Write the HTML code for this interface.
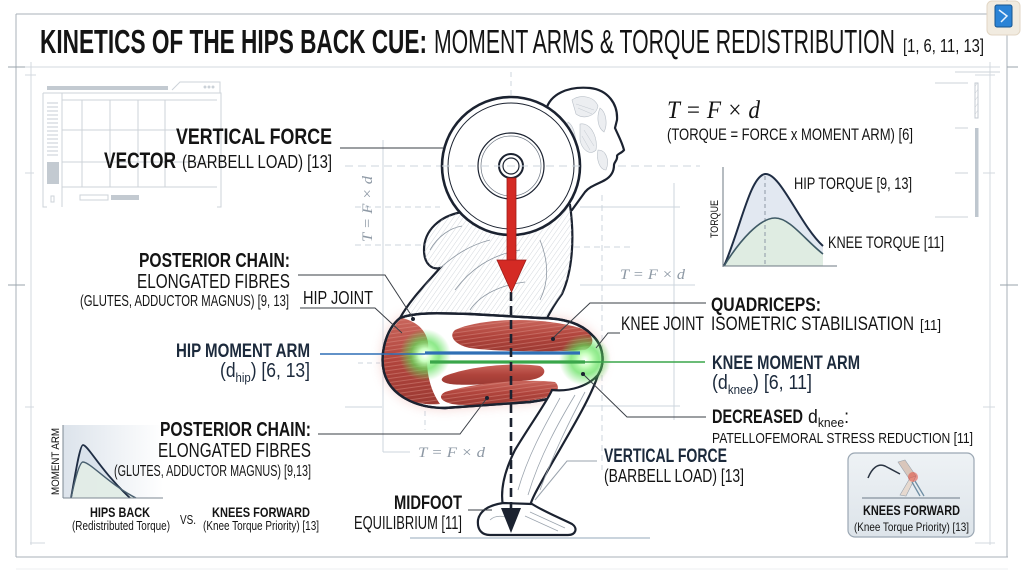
<!DOCTYPE html>
<html><head><meta charset="utf-8">
<style>
html,body{margin:0;padding:0;background:#fff;}
svg{display:block;}
text{font-family:"Liberation Sans Narrow","Liberation Sans",sans-serif;fill:#141414;}
.b{font-weight:700;}
.n{fill:#1c2a3c;}
.m{font-family:"Liberation Serif",serif;font-style:italic;}
.g{fill:#8e99a5;}
</style></head>
<body>
<svg width="1024" height="572" viewBox="0 0 1024 572" xmlns="http://www.w3.org/2000/svg">
<defs>
  <radialGradient id="glow" cx="50%" cy="50%" r="50%">
    <stop offset="0" stop-color="#ffffff"/>
    <stop offset="0.25" stop-color="#c9ffbf"/>
    <stop offset="0.55" stop-color="#5fe05a" stop-opacity="0.7"/>
    <stop offset="1" stop-color="#5fe05a" stop-opacity="0"/>
  </radialGradient>
  <linearGradient id="red" x1="0" y1="0" x2="0" y2="1">
    <stop offset="0" stop-color="#c9665c"/>
    <stop offset="0.5" stop-color="#b0443c"/>
    <stop offset="1" stop-color="#9c3a33"/>
  </linearGradient>
  <pattern id="hatch" width="4" height="4" patternUnits="userSpaceOnUse" patternTransform="rotate(35)">
    <line x1="0" y1="0" x2="0" y2="4" stroke="#b9c0c8" stroke-width="0.7"/>
  </pattern>
  <pattern id="rstripe" width="4" height="4" patternUnits="userSpaceOnUse" patternTransform="rotate(-8)">
    <line x1="0" y1="1" x2="4" y2="1" stroke="#e0978c" stroke-width="0.6" stroke-opacity="0.7"/>
  </pattern>
  <linearGradient id="chartA" x1="0" y1="0" x2="1" y2="0">
    <stop offset="0" stop-color="#dce3eb"/>
    <stop offset="1" stop-color="#dce3eb" stop-opacity="0"/>
  </linearGradient>
  <linearGradient id="boxg" x1="0" y1="0" x2="0" y2="1">
    <stop offset="0" stop-color="#eef2f5"/>
    <stop offset="1" stop-color="#dde4ea"/>
  </linearGradient>
  <filter id="blur" x="-20%" y="-40%" width="140%" height="180%"><feGaussianBlur stdDeviation="6"/></filter>
</defs>

<!-- frame -->
<g stroke="#a9b1b9" stroke-width="1" fill="none">
  <line x1="16" y1="14" x2="988" y2="14"/>
  <line x1="16" y1="14" x2="16" y2="557"/>
  <line x1="16" y1="557" x2="1008" y2="557"/>
  <line x1="1007" y1="0" x2="1007" y2="557"/>
</g>
<g stroke="#d3d9df" stroke-width="1" fill="none">
  <line x1="25" y1="67" x2="1000" y2="67"/>
  <line x1="31" y1="62" x2="31" y2="545"/>
  <line x1="990" y1="62" x2="990" y2="545"/>
  <line x1="8" y1="67" x2="25" y2="67" stroke="#9aa3ab"/>
  <line x1="25" y1="75" x2="36" y2="75"/>
  <line x1="25" y1="173" x2="34" y2="173"/>
  <line x1="8" y1="285" x2="25" y2="285" stroke="#9aa3ab"/>
  <line x1="25" y1="407" x2="34" y2="407"/>
  <line x1="30" y1="543" x2="45" y2="543"/>
  <line x1="1007" y1="67" x2="1018" y2="67" stroke="#9aa3ab"/>
  <line x1="975" y1="75" x2="995" y2="75"/>
  <line x1="983" y1="173" x2="995" y2="173"/>
  <line x1="1000" y1="285" x2="1018" y2="285" stroke="#9aa3ab"/>
  <line x1="983" y1="407" x2="995" y2="407"/>
  <line x1="975" y1="543" x2="995" y2="543"/>
  <line x1="16" y1="569" x2="1008" y2="569" stroke="#eceff2"/>
</g>

<!-- icon top right -->
<rect x="987" y="1" width="33" height="34" rx="5" fill="#f1ebe0" stroke="#e2d6c4"/>
<rect x="995" y="5" width="17" height="22" rx="2" fill="#2b83d6" stroke="#17558f"/>
<path d="M999 10 L1007 16 L1001 22" stroke="#e8f3ff" stroke-width="1.5" fill="none"/>

<!-- title -->
<text class="b" x="40" y="53" font-size="33" textLength="387" lengthAdjust="spacingAndGlyphs">KINETICS OF THE HIPS BACK CUE:</text>
<text x="434" y="53" font-size="33" textLength="461" lengthAdjust="spacingAndGlyphs">MOMENT ARMS &amp; TORQUE REDISTRIBUTION</text>
<text x="903" y="52" font-size="18" textLength="81" lengthAdjust="spacingAndGlyphs">[1, 6, 11, 13]</text>

<!-- top-left faded panel -->
<g stroke="#cdd3d9" stroke-width="1" fill="none">
  <rect x="47" y="86" width="121" height="4" fill="#c3cad1" stroke="none"/>
  <path d="M172 90 L180 82 L220 82 L220 93"/>
  <circle cx="205" cy="87" r="1" fill="#c3cad1"/><circle cx="209" cy="87" r="1" fill="#c3cad1"/><circle cx="213" cy="87" r="1" fill="#c3cad1"/>
  <path d="M43 93 L43 207 L47 207 M43 93 L221 93 L221 207 L217 207"/>
  <line x1="62" y1="100" x2="217" y2="100"/>
  <line x1="62" y1="93" x2="62" y2="207"/>
  <line x1="82" y1="100" x2="82" y2="187"/>
  <line x1="110" y1="100" x2="110" y2="187"/>
  <line x1="138" y1="100" x2="138" y2="187"/>
  <line x1="165" y1="100" x2="165" y2="187"/>
  <line x1="62" y1="130" x2="217" y2="130"/>
  <line x1="62" y1="162" x2="217" y2="162"/>
  <line x1="62" y1="187" x2="217" y2="187"/>
  <g stroke="#c7ced5">
    <line x1="47" y1="103" x2="58" y2="103"/><line x1="47" y1="107" x2="58" y2="107"/><line x1="47" y1="111" x2="58" y2="111"/>
    <line x1="47" y1="115" x2="58" y2="115"/><line x1="47" y1="119" x2="58" y2="119"/><line x1="47" y1="123" x2="58" y2="123"/>
    <line x1="47" y1="127" x2="58" y2="127"/><line x1="47" y1="131" x2="58" y2="131"/><line x1="47" y1="135" x2="58" y2="135"/>
    <line x1="47" y1="139" x2="58" y2="139"/><line x1="47" y1="143" x2="58" y2="143"/><line x1="47" y1="147" x2="58" y2="147"/>
    <line x1="47" y1="151" x2="58" y2="151"/><line x1="47" y1="155" x2="58" y2="155"/>
  </g>
  <rect x="47" y="162" width="12" height="22" fill="#c3cad1" stroke="none"/>
  <rect x="80" y="195" width="28" height="5"/>
  <rect x="111" y="195" width="28" height="5" fill="#c3cad1" stroke="none"/>
  <rect x="51" y="196" width="3" height="6"/>
</g>

<!-- right side faded panel -->
<g stroke="#cdd3d9" stroke-width="1" fill="none">
  <path d="M935 83 L968 83 M955 128 L968 128 M955 173 L968 173 M935 217 L968 217"/>
  <rect x="975" y="83" width="3" height="35" fill="url(#hatch)" stroke="#c3cad1"/>
  <rect x="975" y="128" width="3.5" height="89" fill="#bfc7cf" stroke="none"/>
  <line x1="955" y1="72" x2="1000" y2="72"/>
</g>

<!-- guide lines -->
<g stroke="#ccd5de" stroke-width="1" fill="none">
  <line x1="383" y1="140" x2="383" y2="452"/>
  <line x1="383" y1="452" x2="410" y2="452"/>
  <line x1="511" y1="72" x2="511" y2="100" stroke-dasharray="5 4"/>
  <line x1="345" y1="166" x2="700" y2="166" stroke-dasharray="8 5"/>
  <line x1="355" y1="207" x2="440" y2="207" stroke-dasharray="6 4"/>
  <line x1="355" y1="245" x2="440" y2="245" stroke-dasharray="6 4"/>
  <line x1="580" y1="207" x2="680" y2="207"/>
  <line x1="574" y1="247" x2="630" y2="247" stroke-dasharray="6 4"/>
  <line x1="602" y1="195" x2="602" y2="470" stroke-dasharray="6 4"/>
  <line x1="674" y1="183" x2="674" y2="420"/>
  <line x1="580" y1="285" x2="695" y2="285"/>
  <line x1="565" y1="406" x2="680" y2="406"/>
  <line x1="345" y1="407" x2="382" y2="407"/>
  <line x1="358" y1="363" x2="380" y2="363" stroke-dasharray="5 4"/>
  <line x1="425" y1="375" x2="425" y2="430" stroke-dasharray="5 4"/>
</g>
<text class="m g" x="0" y="0" font-size="15" textLength="66" lengthAdjust="spacingAndGlyphs" transform="translate(372,242) rotate(-90)">T = F × d</text>
<text class="m g" x="620" y="279" font-size="15" textLength="65" lengthAdjust="spacingAndGlyphs">T = F × d</text>
<text class="m g" x="418" y="457" font-size="15" textLength="67" lengthAdjust="spacingAndGlyphs">T = F × d</text>

<!-- red soft glow behind thighs -->
<path d="M400 318 C 385 330, 380 355, 384 372 C 390 395, 415 408, 445 408 L 530 402 C 560 398, 585 390, 598 375 C 606 362, 603 345, 592 335 C 580 322, 560 318, 540 318 L 470 314 C 440 313, 415 312, 400 318 Z" fill="#e2817a" opacity="0.4" filter="url(#blur)"/>

<!-- head -->
<path d="M546 110 C 550 94, 568 86, 590 88 C 608 90, 618 104, 617 120 L 615 128 C 618 135, 622 142, 624 150 C 622 153, 617 154, 617 156 C 618 160, 614 162, 614 165 C 614 170, 612 176, 605 180 C 598 184, 590 186, 585 192 L 572 210 L 540 200 Z" fill="#fff" stroke="#1b2230" stroke-width="2.2"/>
<g fill="#eceef1" stroke="#b8bfc7" stroke-width="0.6">
  <path d="M572 100 C 580 94, 594 96, 598 106 C 596 116, 584 120, 576 114 Z"/>
  <path d="M600 108 C 606 112, 608 124, 604 132 C 598 128, 596 118, 600 108 Z"/>
  <path d="M580 124 C 590 122, 598 136, 596 150 C 590 156, 582 150, 580 140 Z"/>
  <path d="M598 150 C 606 150, 610 160, 606 170 C 600 170, 596 160, 598 150 Z"/>
  <path d="M568 122 C 574 126, 578 140, 574 152 C 568 148, 565 134, 568 122 Z"/>
</g>
<g stroke="#c3c9d0" stroke-width="0.5" fill="none">
  <path d="M576 104 L 594 110"/><path d="M578 108 L 592 114"/><path d="M584 130 L 594 146"/><path d="M582 136 L 590 150"/>
</g>

<!-- torso -->
<path d="M462 212 C 440 216, 424 230, 424 250 C 424 264, 432 270, 440 268 C 425 285, 410 300, 400 318 L 545 322 C 550 312, 556 302, 562 294 C 572 272, 575 240, 570 205 Z" fill="#fff" stroke="#1b2230" stroke-width="2.2"/>
<path d="M462 212 C 440 216, 424 230, 424 250 C 424 264, 432 270, 440 268 C 425 285, 410 300, 400 318 L 545 322 C 550 312, 556 302, 562 294 C 572 272, 575 240, 570 205 Z" fill="url(#hatch)" opacity="0.9"/>
<g stroke="#8e98a3" stroke-width="0.8" fill="none">
  <path d="M440 268 C 455 255, 470 245, 490 240"/>
  <path d="M455 290 C 470 270, 490 255, 520 250"/>
  <path d="M540 240 C 548 260, 550 280, 540 300"/>
  <path d="M470 310 C 480 295, 500 285, 525 282"/>
  <path d="M430 250 C 438 236, 450 228, 462 226"/>
</g>

<!-- barbell plate -->
<circle cx="511" cy="166" r="69" fill="#fff" stroke="#1b2230" stroke-width="2.6"/>
<circle cx="511" cy="166" r="63" fill="none" stroke="#1b2230" stroke-width="1"/>
<circle cx="511" cy="166" r="33" fill="none" stroke="#1b2230" stroke-width="1.2"/>
<circle cx="511" cy="166" r="30" fill="none" stroke="#6b7480" stroke-width="0.7"/>
<circle cx="511" cy="166" r="12" fill="#fff" stroke="#1b2230" stroke-width="2"/>
<circle cx="511" cy="166" r="8" fill="none" stroke="#1b2230" stroke-width="1.2"/>
<line x1="442" y1="166" x2="580" y2="166" stroke="#ccd5de" stroke-dasharray="8 5"/>

<!-- thigh -->
<path d="M400 318 C 385 330, 380 355, 384 372 C 390 395, 415 408, 445 408 L 530 402 C 560 398, 585 390, 598 375 C 606 362, 603 345, 592 335 C 580 322, 560 318, 540 318 L 470 314 C 440 313, 415 312, 400 318 Z" fill="#fff" stroke="#1b2230" stroke-width="2.4"/>
<g>
  <path d="M402 318 C 385 332, 380 358, 385 375 C 393 398, 415 406, 440 404 C 430 390, 425 370, 428 350 C 430 335, 420 322, 402 318 Z" fill="url(#red)"/>
  <path d="M455 330 C 480 318, 540 316, 580 328 C 595 334, 596 345, 585 350 C 555 352, 500 352, 470 348 C 455 345, 448 336, 455 330 Z" fill="url(#red)"/>
  <path d="M445 376 C 470 366, 515 362, 540 366 C 548 370, 545 378, 530 380 C 500 384, 465 386, 450 384 C 440 382, 440 379, 445 376 Z" fill="url(#red)"/>
  <path d="M445 392 C 470 384, 520 378, 555 382 C 562 388, 556 396, 540 399 C 510 404, 470 407, 452 404 C 440 401, 438 396, 445 392 Z" fill="url(#red)"/>
  <g fill="url(#rstripe)">
    <path d="M402 318 C 385 332, 380 358, 385 375 C 393 398, 415 406, 440 404 C 430 390, 425 370, 428 350 C 430 335, 420 322, 402 318 Z"/>
    <path d="M455 330 C 480 318, 540 316, 580 328 C 595 334, 596 345, 585 350 C 555 352, 500 352, 470 348 C 455 345, 448 336, 455 330 Z"/>
    <path d="M445 392 C 470 384, 520 378, 555 382 C 562 388, 556 396, 540 399 C 510 404, 470 407, 452 404 C 440 401, 438 396, 445 392 Z"/>
  </g>
</g>
<path d="M400 318 C 385 330, 380 355, 384 372 C 390 395, 415 408, 445 408 L 530 402 C 560 398, 585 390, 598 375 C 606 362, 603 345, 592 335 C 580 322, 560 318, 540 318 L 470 314 C 440 313, 415 312, 400 318 Z" fill="none" stroke="#1b2230" stroke-width="2.4"/>

<!-- shin -->
<path d="M598 375 C 590 400, 565 440, 548 470 C 538 488, 532 498, 530 506 L 503 506 C 500 490, 505 470, 515 450 C 530 425, 548 400, 552 390 C 570 392, 588 386, 598 375 Z" fill="#fff" stroke="#1b2230" stroke-width="2.2"/>
<g stroke="#9aa3ad" stroke-width="0.8" fill="none">
  <path d="M575 395 C 560 420, 540 455, 528 495"/>
  <path d="M560 398 C 545 425, 528 455, 518 490"/>
  <path d="M585 392 C 570 420, 555 450, 540 490"/>
</g>
<!-- foot -->
<path d="M503 503 C 490 505, 480 510, 478 520 C 477 530, 482 535, 490 535 L 568 535 C 576 535, 578 528, 572 524 C 560 518, 545 512, 532 504 Z" fill="#fff" stroke="#1b2230" stroke-width="2.2"/>
<g stroke="#9aa3ad" stroke-width="0.7" fill="none">
  <path d="M530 512 L 565 528"/><path d="M525 516 L 558 531"/><path d="M490 520 C 495 515, 505 515, 510 520"/>
</g>
<line x1="410" y1="538" x2="650" y2="538" stroke="#b9c6d2" stroke-width="1.5"/>

<!-- glows -->
<circle cx="425" cy="355" r="26" fill="url(#glow)"/>
<circle cx="585" cy="360" r="26" fill="url(#glow)"/>

<!-- moment arm lines -->
<line x1="320" y1="354" x2="425" y2="354" stroke="#2f6fb5" stroke-width="1.6"/>
<line x1="425" y1="353" x2="580" y2="353" stroke="#2f6fb5" stroke-width="3.2"/>
<line x1="430" y1="362" x2="585" y2="362" stroke="#3aa64a" stroke-width="3.2"/>
<line x1="585" y1="362" x2="705" y2="362" stroke="#3aa64a" stroke-width="1.6"/>

<!-- dashed gravity line -->
<line x1="511" y1="292" x2="511" y2="508" stroke="#1b2230" stroke-width="2.6" stroke-dasharray="9 5"/>
<polygon points="501,508 521,508 511,533" fill="#1b2230"/>

<!-- red arrow -->
<rect x="507" y="178" width="9" height="84" fill="#d42a24" stroke="#9e1d18" stroke-width="0.8"/>
<polygon points="497,260 526,260 511.5,292" fill="#d42a24" stroke="#9e1d18" stroke-width="0.8"/>

<!-- connectors -->
<g stroke="#3a3f46" stroke-width="1" fill="none">
  <line x1="340" y1="148" x2="443" y2="148"/>
  <polyline points="298,275 385,275 413,318"/>
  <polyline points="300,308 375,308 402,333"/>
  <polyline points="318,434 460,434 487,398"/>
  <line x1="468" y1="510" x2="492" y2="510"/>
  <polyline points="706,303 590,303 553,338"/>
  <polyline points="620,333 608,333 596,348"/>
  <polyline points="706,417 627,417 583,374"/>
  <polyline points="597,461 567,461 535,500" stroke="#9aa3ad"/>
</g>
<g fill="#1b2230">
  <circle cx="413" cy="319" r="2"/><circle cx="487" cy="398" r="2"/><circle cx="553" cy="339" r="2"/><circle cx="583" cy="374" r="2"/>
</g>

<!-- left chart (drawn before labels) -->
<rect x="63" y="425" width="100" height="73" fill="url(#chartA)"/>
<path d="M71 498 C 76 470, 80 445, 83 445 C 88 445, 100 470, 130 498 Z" fill="#d7e0ea" opacity="0.8"/>
<path d="M71 498 C 76 475, 80 462, 83 462 C 90 462, 110 485, 136 498 Z" fill="#e3efe6" opacity="0.8"/>
<path d="M71 498 C 76 470, 80 445, 83 445 C 88 445, 100 470, 130 498" fill="none" stroke="#1f2d44" stroke-width="1.8"/>
<path d="M71 498 C 76 475, 80 462, 83 462 C 90 462, 110 485, 136 498" fill="none" stroke="#4a6070" stroke-width="1.4"/>
<line x1="63" y1="425" x2="63" y2="498" stroke="#7d8893"/>
<line x1="63" y1="498" x2="163" y2="498" stroke="#7d8893"/>
<text x="0" y="0" font-size="11" textLength="67" lengthAdjust="spacingAndGlyphs" transform="translate(59,495) rotate(-90)">MOMENT ARM</text>

<!-- left labels -->
<text class="b" x="176" y="144" font-size="22" textLength="156" lengthAdjust="spacingAndGlyphs">VERTICAL FORCE</text>
<text class="b" x="104" y="168" font-size="22" textLength="72" lengthAdjust="spacingAndGlyphs">VECTOR</text>
<text x="182" y="168" font-size="18" textLength="150" lengthAdjust="spacingAndGlyphs">(BARBELL LOAD) [13]</text>

<text class="b" x="139" y="267" font-size="20" textLength="151" lengthAdjust="spacingAndGlyphs">POSTERIOR CHAIN:</text>
<text x="137" y="288" font-size="20" textLength="153" lengthAdjust="spacingAndGlyphs">ELONGATED FIBRES</text>
<text x="80" y="306" font-size="16" textLength="209" lengthAdjust="spacingAndGlyphs">(GLUTES, ADDUCTOR MAGNUS) [9, 13]</text>
<text x="303" y="304" font-size="18" textLength="70" lengthAdjust="spacingAndGlyphs">HIP JOINT</text>

<text class="b n" x="176" y="357" font-size="19" textLength="134" lengthAdjust="spacingAndGlyphs">HIP MOMENT ARM</text>
<text class="n" x="220" y="377" font-size="20" textLength="90" lengthAdjust="spacingAndGlyphs">(d<tspan font-size="13" dy="5">hip</tspan><tspan dy="-5">) [6, 13]</tspan></text>

<text class="b" x="160" y="436" font-size="20" textLength="151" lengthAdjust="spacingAndGlyphs">POSTERIOR CHAIN:</text>
<text x="158" y="457" font-size="20" textLength="153" lengthAdjust="spacingAndGlyphs">ELONGATED FIBRES</text>
<text x="114" y="476" font-size="16" textLength="197" lengthAdjust="spacingAndGlyphs">(GLUTES, ADDUCTOR MAGNUS) [9,13]</text>

<text class="b" x="90" y="517" font-size="14" textLength="60" lengthAdjust="spacingAndGlyphs">HIPS BACK</text>
<text x="72" y="530" font-size="13" textLength="98" lengthAdjust="spacingAndGlyphs">(Redistributed Torque)</text>
<text x="180" y="524" font-size="13" textLength="16" lengthAdjust="spacingAndGlyphs">VS.</text>
<text class="b" x="212" y="517" font-size="14" textLength="98" lengthAdjust="spacingAndGlyphs">KNEES FORWARD</text>
<text x="203" y="530" font-size="13" textLength="116" lengthAdjust="spacingAndGlyphs">(Knee Torque Priority) [13]</text>

<text class="b" x="394" y="509" font-size="19" textLength="68" lengthAdjust="spacingAndGlyphs">MIDFOOT</text>
<text x="354" y="529" font-size="18" textLength="108" lengthAdjust="spacingAndGlyphs">EQUILIBRIUM [11]</text>

<!-- right formula -->
<text class="m" x="667" y="118" font-size="25" textLength="93" lengthAdjust="spacingAndGlyphs">T = F × d</text>
<text x="667" y="140" font-size="17" textLength="246" lengthAdjust="spacingAndGlyphs">(TORQUE = FORCE x MOMENT ARM) [6]</text>

<!-- right chart -->
<path d="M724 266 C 740 230, 750 176, 765 174 C 780 172, 800 225, 823 246 L 823 266 Z" fill="#dde4ee" opacity="0.85"/>
<path d="M724 266 C 740 240, 760 218, 775 218 C 790 218, 805 240, 823 254 L 823 266 Z" fill="#dfece0" opacity="0.9"/>
<line x1="765" y1="176" x2="765" y2="266" stroke="#8e99a5" stroke-dasharray="4 3"/>
<path d="M724 266 C 740 230, 750 176, 765 174 C 780 172, 800 225, 823 246" fill="none" stroke="#1f2d44" stroke-width="2"/>
<path d="M724 266 C 740 240, 760 218, 775 218 C 790 218, 805 240, 823 254" fill="none" stroke="#3f5a66" stroke-width="1.6"/>
<line x1="723" y1="167" x2="723" y2="267" stroke="#6d7883"/>
<line x1="723" y1="266" x2="837" y2="266" stroke="#6d7883"/>
<text x="0" y="0" font-size="11" textLength="38" lengthAdjust="spacingAndGlyphs" transform="translate(718,238) rotate(-90)">TORQUE</text>
<text x="794" y="189" font-size="17" textLength="118" lengthAdjust="spacingAndGlyphs">HIP TORQUE [9, 13]</text>
<text x="828" y="248" font-size="17" textLength="116" lengthAdjust="spacingAndGlyphs">KNEE TORQUE [11]</text>

<!-- right labels -->
<text class="b" x="711" y="311" font-size="19" textLength="110" lengthAdjust="spacingAndGlyphs">QUADRICEPS:</text>
<text x="621" y="330" font-size="19" textLength="83" lengthAdjust="spacingAndGlyphs">KNEE JOINT</text>
<text x="711" y="330" font-size="19" textLength="203" lengthAdjust="spacingAndGlyphs">ISOMETRIC STABILISATION</text>
<text x="920" y="330" font-size="15" textLength="21" lengthAdjust="spacingAndGlyphs">[11]</text>

<text class="b n" x="712" y="369" font-size="19" textLength="148" lengthAdjust="spacingAndGlyphs">KNEE MOMENT ARM</text>
<text class="n" x="712" y="389" font-size="20" textLength="100" lengthAdjust="spacingAndGlyphs">(d<tspan font-size="13" dy="5">knee</tspan><tspan dy="-5">) [6, 11]</tspan></text>

<text class="b" x="712" y="423" font-size="19" textLength="91" lengthAdjust="spacingAndGlyphs">DECREASED</text>
<text x="808" y="423" font-size="19" textLength="41" lengthAdjust="spacingAndGlyphs">d<tspan font-size="13" dy="4">knee</tspan><tspan dy="-4">:</tspan></text>
<text x="712" y="443" font-size="15" textLength="261" lengthAdjust="spacingAndGlyphs">PATELLOFEMORAL STRESS REDUCTION [11]</text>

<text class="b n" x="604" y="462" font-size="19" textLength="123" lengthAdjust="spacingAndGlyphs">VERTICAL FORCE</text>
<text x="604" y="482" font-size="18" textLength="140" lengthAdjust="spacingAndGlyphs">(BARBELL LOAD) [13]</text>

<!-- knees forward box -->
<rect x="848" y="453" width="126" height="84" rx="7" fill="url(#boxg)" stroke="#9ba7b3" stroke-width="1.2"/>
<path d="M868 478 C 872 468, 878 463, 885 466 L 900 474" fill="none" stroke="#2a3442" stroke-width="1.5"/>
<path d="M898 462 L 905 460 L 916 476 L 910 480 Z" fill="#d9c6bb" stroke="#9aa3ad" stroke-width="0.6"/>
<path d="M910 478 L 916 476 L 906 496 L 900 495 Z" fill="#e6d9cf" stroke="#9aa3ad" stroke-width="0.6"/>
<circle cx="913" cy="477" r="5" fill="#e24a3a" opacity="0.55"/>
<path d="M912 482 L 920 496 M 915 481 L 924 496" stroke="#6f8ea3" stroke-width="1.3"/>
<line x1="862" y1="498" x2="960" y2="498" stroke="#6d7b88"/>
<text class="b" x="863" y="515" font-size="14" textLength="97" lengthAdjust="spacingAndGlyphs">KNEES FORWARD</text>
<text x="854" y="531" font-size="12" textLength="115" lengthAdjust="spacingAndGlyphs">(Knee Torque Priority) [13]</text>
</svg>
</body></html>
